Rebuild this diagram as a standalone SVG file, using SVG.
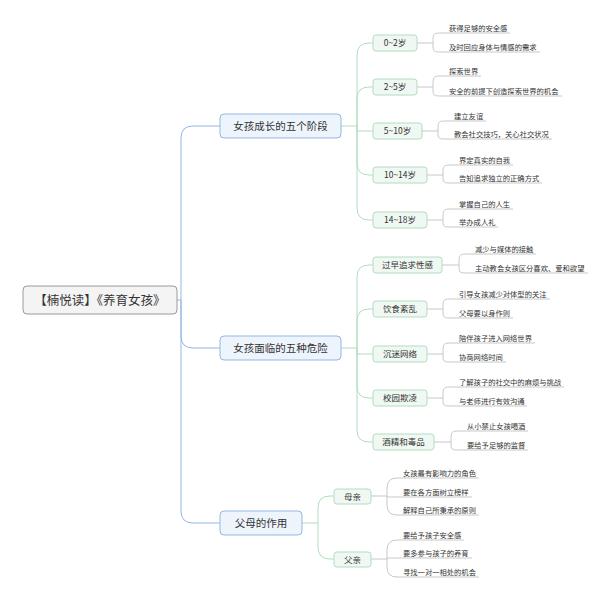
<svg xmlns="http://www.w3.org/2000/svg" width="609" height="600" viewBox="0 0 609 600">
<style>
text{font-family:"Noto Sans CJK SC","Liberation Sans",sans-serif;fill:#333}
.root rect{fill:#f4f4f4;stroke:#9a9a9a;stroke-width:1}
.main rect{fill:#eef4fc;stroke:#93b7e3;stroke-width:1}
.sub rect{fill:#eff8f2;stroke:#b3dcc0;stroke-width:1}
.main text{font-size:10.5px}
.sub text{font-size:8.5px}
.leaf{font-size:7.3px}
.cb{fill:none;stroke:#93b7e3;stroke-width:1}
.cg{fill:none;stroke:#b3dcc0;stroke-width:1}
.cl{fill:none;stroke:#c8c8c8;stroke-width:1}
</style>
<rect width="609" height="600" fill="#fff"/>
<g id="connectors">
<path class="cb" d="M177 300H181M181 300V138Q181 126 193 126H220M181 300V336Q181 348 193 348H220M181 300V511Q181 523 193 523H220"/>
<path class="cg" d="M341 126H357M357 126V55Q357 43 369 43H373M357 126V99Q357 87 369 87H373M357 126V131H373M357 126V163Q357 175 369 175H373M357 126V208Q357 220 369 220H373"/>
<path class="cg" d="M341 348H357M357 348V277Q357 265 369 265H373M357 348V321Q357 309 369 309H373M357 348V354H373M357 348V386Q357 398 369 398H373M357 348V430Q357 442 369 442H373"/>
<path class="cg" d="M302 523H318M318 523V508Q318 496 330 496H334M318 523V547Q318 559 330 559H334"/>
<g class="cl">
<path d="M417 43H433M433 43C433 33 433 33 443 33H510M433 43C433 52 433 52 443 52H540"/>
<path d="M417 87H433M433 87C433 76 433 76 443 76H481M433 87C433 96 433 96 443 96H562"/>
<path d="M422 131H438M438 131C438 121 438 121 448 121H486M438 131C438 139 438 139 448 139H552"/>
<path d="M427 175H443M443 175C443 165 443 165 453 165H513M443 175C443 183 443 183 453 183H542"/>
<path d="M427 220H443M443 220C443 209 443 209 453 209H513M443 220C443 227 443 227 453 227H498"/>
<path d="M442 265H459M459 265C459 254 459 254 469 254H536M459 265C459 273 459 273 469 273H588"/>
<path d="M427 309H443M443 309C443 299 443 299 453 299H550M443 309C443 318 443 318 453 318H513"/>
<path d="M427 354H443M443 354C443 343 443 343 453 343H535M443 354C443 362 443 362 453 362H506"/>
<path d="M427 398H443M443 398C443 387 443 387 453 387H564M443 398C443 406 443 406 453 406H527"/>
<path d="M434 442H451M451 442C451 431 451 431 461 431H528M451 442C451 450 451 450 461 450H528"/>
<path d="M371 496H387M387 496V488Q387 478 397 478H479M387 496C387 497 387 497 397 497H472M387 496V505Q387 515 397 515H479"/>
<path d="M371 559H387M387 559V550Q387 540 397 540H464M387 559C387 558 387 558 397 558H472M387 559V567Q387 577 397 577H479"/>
</g>
</g>
<g id="root" class="root"><rect x="23" y="286" width="154" height="28" rx="4"/><text x="100" y="304.5" font-size="12.5" text-anchor="middle">【楠悦读】《养育女孩》</text></g>
<g id="m1" class="main"><rect x="220" y="114" width="121" height="24" rx="4"/><text x="280.5" y="130" text-anchor="middle">女孩成长的五个阶段</text></g>
<g id="m2" class="main"><rect x="220" y="336" width="121" height="24" rx="4"/><text x="280.5" y="352" text-anchor="middle">女孩面临的五种危险</text></g>
<g id="m3" class="main"><rect x="220" y="511" width="82" height="24" rx="4"/><text x="261" y="527" text-anchor="middle">父母的作用</text></g>
<g class="sub">
<g id="s1"><rect x="373" y="35" width="44" height="16" rx="3"/><text x="395" y="46" text-anchor="middle">0~2岁</text></g>
<g id="s2"><rect x="373" y="79" width="44" height="16" rx="3"/><text x="395" y="90" text-anchor="middle">2~5岁</text></g>
<g id="s3"><rect x="373" y="123" width="49" height="16" rx="3"/><text x="397.5" y="134" text-anchor="middle">5~10岁</text></g>
<g id="s4"><rect x="373" y="167" width="54" height="16" rx="3"/><text x="400" y="178" text-anchor="middle">10~14岁</text></g>
<g id="s5"><rect x="373" y="212" width="54" height="16" rx="3"/><text x="400" y="223" text-anchor="middle">14~18岁</text></g>
<g id="d1"><rect x="373" y="257" width="69" height="16" rx="3"/><text x="407.5" y="268" text-anchor="middle">过早追求性感</text></g>
<g id="d2"><rect x="373" y="301" width="54" height="16" rx="3"/><text x="400" y="312" text-anchor="middle">饮食紊乱</text></g>
<g id="d3"><rect x="373" y="346" width="54" height="16" rx="3"/><text x="400" y="357" text-anchor="middle">沉迷网络</text></g>
<g id="d4"><rect x="373" y="390" width="54" height="16" rx="3"/><text x="400" y="401" text-anchor="middle">校园欺凌</text></g>
<g id="d5"><rect x="373" y="434" width="61" height="16" rx="3"/><text x="403.5" y="445" text-anchor="middle">酒精和毒品</text></g>
<g id="p1"><rect x="334" y="489" width="37" height="15" rx="3"/><text x="352.5" y="499.5" text-anchor="middle">母亲</text></g>
<g id="p2"><rect x="334" y="552" width="37" height="15" rx="3"/><text x="352.5" y="562.5" text-anchor="middle">父亲</text></g>
</g>
<g id="leaves" class="leaf">
<text x="449" y="30.5">获得足够的安全感</text><text x="449" y="49.5">及时回应身体与情感的需求</text>
<text x="449" y="73.5">探索世界</text><text x="449" y="93.5">安全的前提下创造探索世界的机会</text>
<text x="454" y="118.5">建立友谊</text><text x="454" y="136.5">教会社交技巧，关心社交状况</text>
<text x="459" y="162.5">界定真实的自我</text><text x="459" y="180.5">告知追求独立的正确方式</text>
<text x="459" y="206.5">掌握自己的人生</text><text x="459" y="224.5">举办成人礼</text>
<text x="475" y="251.5">减少与媒体的接触</text><text x="475" y="270.5">主动教会女孩区分喜欢、爱和欲望</text>
<text x="459" y="296.5">引导女孩减少对体型的关注</text><text x="459" y="315.5">父母要以身作则</text>
<text x="459" y="340.5">陪伴孩子进入网络世界</text><text x="459" y="359.5">协商网络时间</text>
<text x="459" y="384.5">了解孩子的社交中的麻烦与挑战</text><text x="459" y="403.5">与老师进行有效沟通</text>
<text x="467" y="428.5">从小禁止女孩喝酒</text><text x="467" y="447.5">要给予足够的监督</text>
<text x="403" y="475.5">女孩最有影响力的角色</text><text x="403" y="494.5">要在各方面树立榜样</text><text x="403" y="512.5">解释自己所秉承的原则</text>
<text x="403" y="537.5">要给予孩子安全感</text><text x="403" y="555.5">要多参与孩子的养育</text><text x="403" y="574.5">寻找一对一相处的机会</text>
</g>
</svg>
